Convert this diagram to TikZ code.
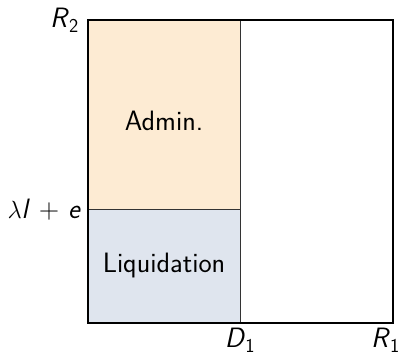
\documentclass[tikz,border=0pt]{standalone}
\usepackage{fontspec}
\setmainfont{Latin Modern Sans}
\newcommand{\mv}[1]{\textsl{#1}}
\definecolor{adminfill}{RGB}{253,235,211}
\definecolor{liqfill}{RGB}{223,229,238}
\begin{document}
\begin{tikzpicture}[x=1pt,y=-1pt,
  lbl/.style={inner sep=0pt,font=\fontsize{28}{32}\selectfont},
  thin line/.style={line width=1pt,draw=black!80}]
\useasboundingbox (0,0) rectangle (404,355);
\fill[adminfill] (88,20) rectangle (240,210);
\fill[liqfill] (88,210) rectangle (240,323);
\draw[thin line] (240,20) -- (240,323);
\draw[thin line] (88,210) -- (240,210);
\draw[line width=2pt,line join=miter] (88,20) rectangle (393,323);
\node[lbl] (admin) at (164,121) {Admin.};
\node[lbl] (liq) at (164,266) {Liquidation};
\node[lbl,anchor=east] (r2) at (79,20) {\mv{R}\textsubscript{2}};
\node[lbl,anchor=east] (lam) at (81,210) {$\lambda$\mv{l} + \mv{e}};
\node[lbl] (d1) at (240,340) {\mv{D}\textsubscript{1}};
\node[lbl,anchor=east] (r1) at (400,340) {\mv{R}\textsubscript{1}};
\end{tikzpicture}
\end{document}
